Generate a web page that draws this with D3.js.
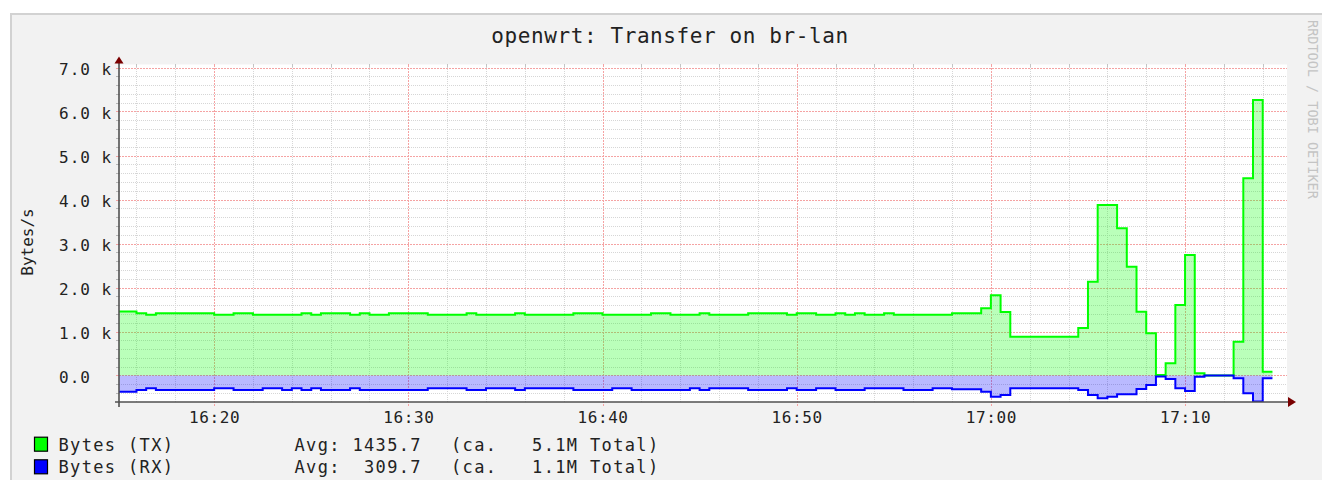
<!DOCTYPE html>
<html>
<head>
<meta charset="utf-8">
<script src="https://cdn.jsdelivr.net/npm/d3@7"></script>
<style>
  html, body { margin: 0; padding: 0; background: #ffffff; }
  svg { display: block; }
  text { font-family: "DejaVu Sans Mono", monospace; fill: #222; }
</style>
</head>
<body>
<svg id="chart" width="1322" height="480"></svg>
<script>
// ---- data ----------------------------------------------------------------
const chartTitle = "openwrt: Transfer on br-lan";
const yAxisLabel = "Bytes/s";
const watermark = "RRDTOOL / TOBI OETIKER";
const seriesNames = ["Bytes (TX)", "Bytes (RX)"];
const seriesColors = ["#00ff00", "#0000ff"];
const legendAvg = ["Avg: 1435.7", "Avg:  309.7"];
const legendTotal = ["(ca.   5.1M Total)", "(ca.   1.1M Total)"];

const viewStart = "16:15:06";
const viewEnd = "17:15:15";
const firstSample = "16:15:00";
const stepSeconds = 30;

// bytes/s per 30 s step, transmitted
const txValues = [
  1455, 1455, 1414, 1378, 1414, 1414, 1414, 1414, 1414, 1414,
  1378, 1378, 1414, 1414, 1378, 1378, 1378, 1378, 1378, 1414,
  1378, 1414, 1414, 1414, 1378, 1414, 1378, 1378, 1414, 1414,
  1414, 1414, 1378, 1378, 1378, 1378, 1414, 1378, 1378, 1378,
  1378, 1414, 1378, 1378, 1378, 1378, 1378, 1414, 1414, 1414,
  1378, 1378, 1378, 1378, 1378, 1414, 1414, 1378, 1378, 1378,
  1414, 1378, 1378, 1378, 1378, 1414, 1414, 1414, 1414, 1378,
  1414, 1414, 1378, 1378, 1414, 1378, 1414, 1378, 1378, 1414,
  1378, 1378, 1378, 1378, 1378, 1378, 1414, 1414, 1414, 1527,
  1823, 1443, 882, 882, 882, 882, 882, 882, 882, 1080,
  2132, 3875, 3875, 3345, 2473, 1450, 959, 10, 277, 1602,
  2739, 50, 0, 0, 0, 768, 4482, 6261, 87
];

// bytes/s per 30 s step, received (drawn below zero)
const rxValues = [
  368, 368, 330, 291, 330, 330, 330, 330, 330, 330,
  291, 291, 330, 330, 330, 291, 291, 330, 291, 330,
  291, 330, 330, 330, 291, 330, 330, 330, 330, 330,
  330, 330, 291, 291, 291, 291, 330, 330, 291, 291,
  291, 330, 291, 291, 291, 291, 291, 330, 330, 330,
  330, 291, 291, 330, 330, 330, 330, 330, 330, 291,
  330, 291, 291, 291, 291, 330, 330, 330, 330, 291,
  330, 330, 291, 291, 330, 330, 330, 291, 291, 291,
  291, 330, 330, 330, 291, 291, 314, 314, 314, 368,
  481, 443, 291, 291, 291, 291, 291, 291, 291, 330,
  443, 519, 481, 428, 428, 307, 216, 20, 80, 291,
  352, 26, 0, 0, 0, 64, 405, 590, 64
];

const xTickLabels = ["16:20", "16:30", "16:40", "16:50", "17:00", "17:10"];
const yTickValues = [0, 1000, 2000, 3000, 4000, 5000, 6000, 7000];
const yTickLabels = ["0.0", "1.0 k", "2.0 k", "3.0 k", "4.0 k", "5.0 k", "6.0 k", "7.0 k"];

// ---- layout ----------------------------------------------------------------
const W = 1322, H = 480;
const plot = { left: 119, right: 1287, top: 67.5, bottom: 402 };

const parseClock = s => {
  const [h, m, sec] = s.split(":").map(Number);
  return new Date(2000, 0, 1, h, m, sec || 0);
};

const x = d3.scaleTime()
  .domain([parseClock(viewStart), parseClock(viewEnd)])
  .range([plot.left, plot.right]);

const y = d3.scaleLinear()
  .domain([-600, 7000])
  .range([401.9, plot.top]);

const svg = d3.select("#chart");

// canvas with frame
svg.append("rect").attr("x", 0).attr("y", 0).attr("width", W).attr("height", H).attr("fill", "#ffffff");
svg.append("rect")
  .attr("x", 11).attr("y", 14).attr("width", W + 20).attr("height", H + 20)
  .attr("fill", "#f2f2f2").attr("stroke", "#d2d2d2").attr("stroke-width", 2);

// plot background
svg.append("rect")
  .attr("x", plot.left).attr("y", plot.top - 3)
  .attr("width", plot.right - plot.left).attr("height", plot.bottom - plot.top + 3)
  .attr("fill", "#ffffff");

// ---- grid -----------------------------------------------------------------
const grid = svg.append("g").attr("shape-rendering", "crispEdges");
const minorColor = "#d6d6d6", majorColor = "#f5a3a3";

const hMinor = d3.range(-400, 7001, 200).filter(v => v % 1000 !== 0);
const hMajor = yTickValues;

const [d0, d1] = x.domain();
const vMinor = d3.timeMinute.every(2).range(d0, d1).filter(d => d.getMinutes() % 10 !== 0);
const vMajor = xTickLabels.map(parseClock);

grid.selectAll(".hminor").data(hMinor).join("line")
  .attr("x1", plot.left).attr("x2", plot.right)
  .attr("y1", d => Math.round(y(d)) + 0.5).attr("y2", d => Math.round(y(d)) + 0.5)
  .attr("stroke", minorColor).attr("stroke-dasharray", "1,1");
grid.selectAll(".vminor").data(vMinor).join("line")
  .attr("x1", d => Math.round(x(d)) + 0.5).attr("x2", d => Math.round(x(d)) + 0.5)
  .attr("y1", plot.top - 3).attr("y2", plot.bottom)
  .attr("stroke", minorColor).attr("stroke-dasharray", "1,1");
grid.selectAll(".hmajor").data(hMajor).join("line")
  .attr("x1", plot.left).attr("x2", plot.right)
  .attr("y1", d => Math.round(y(d)) + 0.5).attr("y2", d => Math.round(y(d)) + 0.5)
  .attr("stroke", majorColor).attr("stroke-dasharray", "2,1");
grid.selectAll(".vmajor").data(vMajor).join("line")
  .attr("x1", d => Math.round(x(d)) + 0.5).attr("x2", d => Math.round(x(d)) + 0.5)
  .attr("y1", plot.top - 3).attr("y2", plot.bottom + 5)
  .attr("stroke", majorColor).attr("stroke-dasharray", "2,1");

// short solid tick marks at the grid ends
grid.selectAll(".ht").data(hMinor.concat(hMajor)).join("line")
  .attr("x1", plot.left - 3).attr("x2", plot.left)
  .attr("y1", d => Math.round(y(d)) + 0.5).attr("y2", d => Math.round(y(d)) + 0.5)
  .attr("stroke", d => d % 1000 === 0 ? majorColor : "#b8b8b8");
grid.selectAll(".vt").data(vMinor.concat(vMajor)).join("line")
  .attr("x1", d => Math.round(x(d)) + 0.5).attr("x2", d => Math.round(x(d)) + 0.5)
  .attr("y1", plot.top - 4).attr("y2", plot.top - 1)
  .attr("stroke", d => d.getMinutes() % 10 === 0 ? majorColor : "#c4c4c4");

// ---- series ----------------------------------------------------------------
const t0 = parseClock(firstSample).getTime();
const toPoints = vals => {
  const pts = vals.map((v, i) => ({ t: new Date(t0 + i * stepSeconds * 1000), v }));
  pts.push({ t: new Date(t0 + vals.length * stepSeconds * 1000), v: vals[vals.length - 1] });
  return pts;
};
const txPts = toPoints(txValues);
const rxPts = toPoints(rxValues).map(p => ({ t: p.t, v: -p.v }));

svg.append("clipPath").attr("id", "plotClip")
  .append("rect")
  .attr("x", plot.left).attr("y", plot.top - 3)
  .attr("width", plot.right - plot.left).attr("height", plot.bottom - plot.top + 3);

const area = d3.area().curve(d3.curveStepAfter)
  .x(d => x(d.t)).y0(y(0)).y1(d => y(d.v));
const line = d3.line().curve(d3.curveStepAfter)
  .x(d => x(d.t)).y(d => y(d.v));

const series = svg.append("g").attr("clip-path", "url(#plotClip)");
series.append("path").datum(txPts).attr("d", area)
  .attr("fill", seriesColors[0]).attr("fill-opacity", 0.27);
series.append("path").datum(rxPts).attr("d", area)
  .attr("fill", seriesColors[1]).attr("fill-opacity", 0.27);
series.append("path").datum(txPts).attr("d", line)
  .attr("fill", "none").attr("stroke", seriesColors[0]).attr("stroke-width", 2);
series.append("path").datum(rxPts).attr("d", line)
  .attr("fill", "none").attr("stroke", seriesColors[1]).attr("stroke-width", 2);

// ---- axes ------------------------------------------------------------------
const axisColor = "#505050", arrowColor = "#7a0000";

const xAxis = d3.axisBottom(x)
  .tickValues(vMajor)
  .tickFormat(d3.timeFormat("%H:%M"))
  .tickSize(0).tickPadding(10);
const gx = svg.append("g").attr("transform", `translate(0,${plot.bottom})`).call(xAxis);
gx.select(".domain").remove();
gx.selectAll("text")
  .attr("font-family", "DejaVu Sans Mono").attr("font-size", 16)
  .attr("letter-spacing", 0.6).attr("fill", "#222");

const yAxis = d3.axisLeft(y)
  .tickValues(yTickValues)
  .tickFormat((d, i) => yTickLabels[i])
  .tickSize(0);
const gy = svg.append("g").attr("transform", `translate(${plot.left},0)`).call(yAxis);
gy.select(".domain").remove();
gy.selectAll("text")
  .attr("x", 59 - plot.left).attr("dy", 6.8)
  .attr("text-anchor", "start")
  .attr("font-family", "DejaVu Sans Mono").attr("font-size", 16)
  .attr("letter-spacing", 1.0).attr("fill", "#222");

// axis lines and arrows
svg.append("line")
  .attr("x1", plot.left - 4).attr("x2", plot.right + 2)
  .attr("y1", plot.bottom).attr("y2", plot.bottom)
  .attr("stroke", axisColor).attr("stroke-width", 1.6);
svg.append("line")
  .attr("x1", plot.left).attr("x2", plot.left)
  .attr("y1", plot.top - 6).attr("y2", plot.bottom + 5)
  .attr("stroke", axisColor).attr("stroke-width", 1.6);
svg.append("path")
  .attr("d", `M${plot.left - 4.5},${plot.top - 4} L${plot.left},${plot.top - 11} L${plot.left + 4.5},${plot.top - 4} Z`)
  .attr("fill", arrowColor);
svg.append("path")
  .attr("d", `M${plot.right + 1},${plot.bottom - 5} L${plot.right + 9},${plot.bottom} L${plot.right + 1},${plot.bottom + 5} Z`)
  .attr("fill", arrowColor);

// ---- titles ------------------------------------------------------------------
svg.append("text")
  .attr("x", 670).attr("y", 43)
  .attr("text-anchor", "middle")
  .attr("font-size", 21).attr("letter-spacing", 0.6)
  .text(chartTitle);

svg.append("text")
  .attr("transform", "translate(32.5,242) rotate(-90)")
  .attr("text-anchor", "middle")
  .attr("font-size", 16)
  .text(yAxisLabel);

svg.append("text")
  .attr("transform", "translate(1308,20) rotate(90)")
  .attr("font-size", 13.5)
  .style("fill", "#c4c4c4")
  .text(watermark);

// ---- legend ------------------------------------------------------------------
const legendRows = seriesNames.map((name, i) => ({
  name, color: seriesColors[i], avg: legendAvg[i], total: legendTotal[i], base: [450.7, 473.3][i]
}));
const lg = svg.append("g");
legendRows.forEach(r => {
  lg.append("rect")
    .attr("x", 34.5).attr("y", r.base - 13.5).attr("width", 13).attr("height", 14)
    .attr("fill", r.color).attr("stroke", "#000").attr("stroke-width", 1.2);
  const tx = (xp, s) => lg.append("text")
    .attr("x", xp).attr("y", r.base)
    .attr("font-size", 17).attr("letter-spacing", 1.35)
    .attr("xml:space", "preserve").style("white-space", "pre")
    .text(s);
  tx(58.5, r.name);
  tx(294.5, r.avg);
  tx(451, r.total);
});
</script>
</body>
</html>
